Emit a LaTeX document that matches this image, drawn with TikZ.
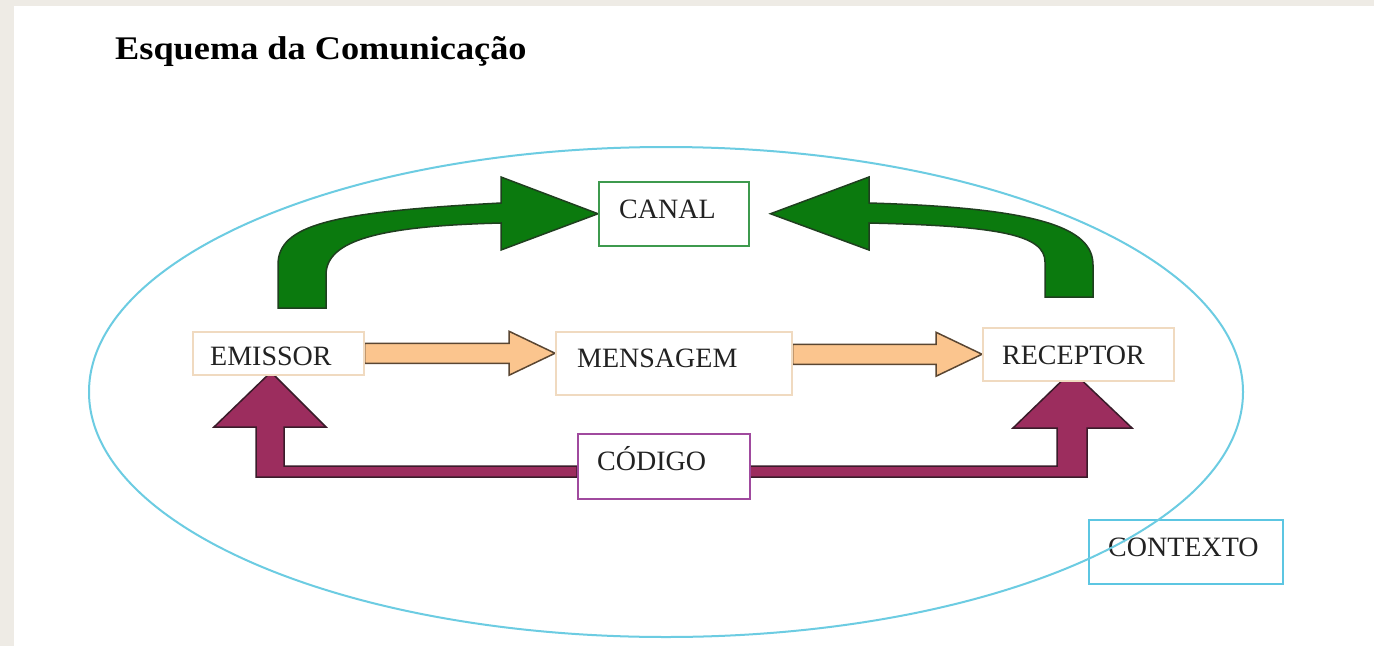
\documentclass[tikz,border=0pt]{standalone}
\usepackage{fontspec}
\setmainfont{Liberation Serif}
\usetikzlibrary{calc}
\pgfdeclarelayer{back}
\pgfsetlayers{back,main}
\definecolor{bggrey}{HTML}{EEEBE5}
\definecolor{ellcol}{HTML}{6CCCE2}
\definecolor{canalcol}{HTML}{3E9A4E}
\definecolor{peachline}{HTML}{F0DAC0}
\definecolor{codcol}{HTML}{A04A9E}
\definecolor{ctxcol}{HTML}{5CC6E2}
\definecolor{greenfill}{HTML}{0B7A0E}
\definecolor{greenline}{HTML}{1F3F1F}
\definecolor{orangefill}{HTML}{FBC58E}
\definecolor{orangeline}{HTML}{5A4632}
\definecolor{maroonfill}{HTML}{9C2D5E}
\definecolor{maroonline}{HTML}{3A1C2A}
\definecolor{txtcol}{HTML}{222222}
\newcommand{\blockarrow}[3]{%
  \draw[#3] ($(#1)+(0,-10)$) -- ($(#2)+(-46,-10)$) -- ($(#2)+(-46,-22)$) -- (#2)
    -- ($(#2)+(-46,22)$) -- ($(#2)+(-46,10)$) -- ($(#1)+(0,10)$) -- cycle;}
\begin{document}
\begin{tikzpicture}[x=1pt,y=-1pt,
  boxstyle/.style={draw, line width=1.5pt, fill=white, inner sep=0pt, anchor=north west},
  lbl/.style={inner sep=0pt, anchor=base west, text=txtcol, font=\fontsize{28}{30}\selectfont},
  orangearr/.style={fill=orangefill, draw=orangeline, line width=1.5pt, line join=miter},
  greenarr/.style={fill=greenfill, draw=greenline, line width=1.5pt},
  maroonarr/.style={fill=maroonfill, draw=maroonline, line width=1.5pt}]
\useasboundingbox (0,0) rectangle (1374,646);
\begin{pgfonlayer}{back}
  \fill[bggrey] (0,0) rectangle (1374,646);
  \fill[white] (14,6) rectangle (1374,646);
\end{pgfonlayer}

% title
\node[inner sep=0pt, anchor=base west, text=black] (title) at (115,59)
  {\scalebox{1.1}[1]{\fontsize{33}{38}\selectfont\bfseries Esquema da Comunicação}};

% boxes
\node[boxstyle, draw=peachline, minimum width=171pt, minimum height=43pt] (emissorbox) at (192,331) {};
\node[boxstyle, draw=peachline, minimum width=236pt, minimum height=63pt] (mensagembox) at (555,331) {};
\node[boxstyle, draw=peachline, minimum width=191pt, minimum height=53pt] (receptorbox) at (982,327) {};
\node[boxstyle, draw=canalcol, minimum width=150pt, minimum height=64pt] (canalbox) at (598,181) {};
\node[boxstyle, draw=codcol, minimum width=172pt, minimum height=65pt] (codigobox) at (577,433) {};
\node[boxstyle, draw=ctxcol, fill=none, line width=2pt, minimum width=194pt, minimum height=64pt] (contextobox) at (1088,519) {};

% labels
\node[lbl] (emissor) at (210,365) {EMISSOR};
\node[lbl] (mensagem) at (577,367) {MENSAGEM};
\node[lbl] (receptor) at (1002,364) {RECEPTOR};
\node[lbl] (canal) at (619,218) {CANAL};
\node[lbl] (codigo) at (597,470) {CÓDIGO};
\node[lbl] (contexto) at (1108,556) {CONTEXTO};

\coordinate (o1s) at (emissorbox.east);
\coordinate (o1e) at (mensagembox.west |- emissorbox.east);
\coordinate (o2s) at (mensagembox.east |- receptorbox.west);
\coordinate (o2e) at (receptorbox.west);
\coordinate (gtipr) at ($(canalbox.east)+(21,0)$);

\begin{pgfonlayer}{back}
  % orange arrows
  \blockarrow{o1s}{o1e}{orangearr}
  \blockarrow{o2s}{o2e}{orangearr}
  % green arrows
  \draw[greenarr] (278,308) -- (278,265) .. controls (278,225) and (330,212) .. (501,203)
    -- (501,177) -- (canalbox.west) -- (501,250) -- (501,223)
    .. controls (380,226) and (326,240) .. (326,275) -- (326,308) -- cycle;
  \draw[greenarr] (1093,297) -- (1093,265) .. controls (1093,228) and (1040,208) .. (869,203)
    -- (869,177) -- (gtipr) -- (869,250) -- (869,223)
    .. controls (1000,226) and (1045,235) .. (1045,262) -- (1045,297) -- cycle;
  % maroon arrows
  \draw[maroonarr] (271,372) -- (326,427) -- (284,427) -- (284,466) -- (577,466)
    -- (577,477) -- (256,477) -- (256,427) -- (214,427) -- cycle;
  \draw[maroonarr] (1072,371) -- (1132,428) -- (1087,428) -- (1087,477) -- (749,477)
    -- (749,466) -- (1057,466) -- (1057,428) -- (1013,428) -- cycle;
\end{pgfonlayer}

% context ellipse
\draw[ellcol, line width=2pt] (666,392) ellipse [x radius=577pt, y radius=245pt];
\end{tikzpicture}
\end{document}
